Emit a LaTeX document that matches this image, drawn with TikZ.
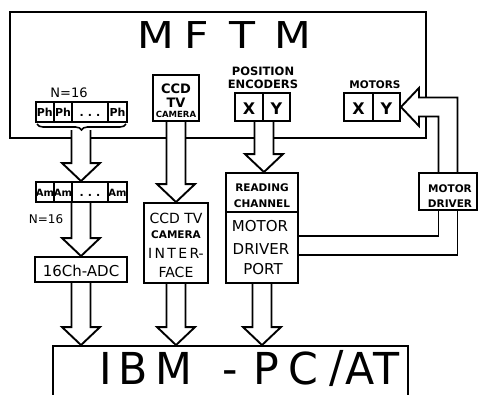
\documentclass[tikz,border=0pt]{standalone}
\usepackage{fontspec}
\setmainfont{DejaVu Sans}
\usetikzlibrary{calc,decorations.pathreplacing}
\newcommand\busarrow[2]{%
  \path[bus] ($(#1)+(-9.5,0)$) -- ($(#2)+(-9.5,-18)$) -- ($(#2)+(-19,-18)$) -- (#2)
    -- ($(#2)+(19,-18)$) -- ($(#2)+(9.5,-18)$) -- ($(#1)+(9.5,0)$);}
\begin{document}
\begin{tikzpicture}[x=1pt,y=-1pt,line width=1.9pt,
  box/.style={draw,rectangle,inner sep=0pt,line join=miter},
  bus/.style={draw,fill=white,line join=miter},
  txt/.style={inner sep=0pt,anchor=base},
  sm/.style={txt,font=\bfseries\fontsize{10}{10}\selectfont},
  cell/.style={txt,font=\bfseries\fontsize{11}{11}\selectfont},
  md/.style={txt,font=\fontsize{15}{15}\selectfont},
  xy/.style={txt,font=\bfseries\fontsize{16}{16}\selectfont},
  big/.style={txt,font=\fontsize{37}{37}\selectfont,xscale=1.15},
  huge/.style={txt,font=\fontsize{44}{44}\selectfont,xscale=0.97},
]
\useasboundingbox (0,0) rectangle (478,394);
\clip (0,0) rectangle (478,394);

% MFTM outer box
\node[box,minimum width=416,minimum height=126] (mftm) at (218,75) {};
\node[big] (m1) at (156,48) {M};
\node[big] (m2) at (197,48) {F};
\node[big] (m3) at (242,48) {T};
\node[big] (m4) at (293,48) {M};

% IBM box
\node[box,minimum width=355,minimum height=80] (ibm) at (230.5,386) {};

% column positions (boxes drawn later)
\coordinate (brc) at (81,130);
\node[inner sep=0pt,minimum width=92,minimum height=20] (amrow) at (81,192) {};
\node[inner sep=0pt,minimum width=92,minimum height=25] (adc) at (81,269.5) {};
\node[inner sep=0pt,minimum width=46,minimum height=46] (cam) at (176,98) {};
\node[inner sep=0pt,minimum width=64,minimum height=80] (ifc) at (176,243) {};
\node[inner sep=0pt,minimum width=28,minimum height=28] (ex) at (249,107) {};
\node[inner sep=0pt,minimum width=72,minimum height=39] (rd) at (262,192.5) {};
\node[inner sep=0pt,minimum width=72,minimum height=71] (port) at (262,247.5) {};
\node[inner sep=0pt,minimum width=27,minimum height=28] (my) at (386.5,107) {};
\node[inner sep=0pt,minimum width=58,minimum height=37] (mdrv) at (448,191.5) {};

% hollow bus arrows
\busarrow{brc}{brc |- amrow.north}
\busarrow{adc |- amrow.south}{adc.north}
\busarrow{adc.south}{adc |- ibm.north}
\busarrow{cam.south}{ifc.north}
\busarrow{ifc.south}{ifc |- ibm.north}
\busarrow{ex.south east}{ex.south east |- rd.north}
\busarrow{port.south}{port |- ibm.north}
% L-shaped arrow motor driver -> motors
\path[bus] ($(mdrv.north)+(-9.5,0)$) -- ($(mdrv.north |- my.east)+(-9.5,9.5)$)
  -- ($(my.east)+(18,9.5)$) -- ($(my.east)+(18,19)$) -- (my.east)
  -- ($(my.east)+(18,-19)$) -- ($(my.east)+(18,-9.5)$)
  -- ($(mdrv.north |- my.east)+(9.5,-9.5)$) -- ($(mdrv.north)+(9.5,0)$);
% double line motor driver port -> motor driver
\draw[line join=miter] ($(port.north east)+(0,25)$) -| ($(mdrv.south)+(-9.5,0)$);
\draw[line join=miter] ($(port.north east)+(0,44)$) -| ($(mdrv.south)+(9.5,0)$);

% N=16 and Ph row
\node[txt,font=\fontsize{13}{13}\selectfont] (n1) at (69,97) {N=16};
\node[box,minimum width=18.3,minimum height=20] (ph1) at (44.85,112) {};
\node[box,minimum width=18,minimum height=20] (ph2) at (63,112) {};
\node[box,minimum width=36,minimum height=20] (ph3) at (90,112) {};
\node[box,minimum width=19,minimum height=20] (ph4) at (117.5,112) {};
\node[cell] (pht1) at (44.85,116.5) {Ph};
\node[cell] (pht2) at (63,116.5) {Ph};
\node[cell] (pht3) at (90,116.5) {.\hspace{4pt}.\hspace{4pt}.};
\node[cell] (pht4) at (117.5,116.5) {Ph};
\draw[decorate,decoration={brace,amplitude=6pt,mirror},line width=1.6pt] (37,124) -- (126,124);

% Am row
\node[box,minimum width=18.3,minimum height=20] (am1) at (44.85,192) {};
\node[box,minimum width=18,minimum height=20] (am2) at (63,192) {};
\node[box,minimum width=36,minimum height=20] (am3) at (90,192) {};
\node[box,minimum width=19,minimum height=20] (am4) at (117.5,192) {};
\node[sm] (amt1) at (44.85,196.5) {Am};
\node[sm] (amt2) at (63,196.5) {Am};
\node[cell] (amt3) at (90,196.5) {.\hspace{4pt}.\hspace{4pt}.};
\node[sm] (amt4) at (117.5,196.5) {Am};
\node[txt,font=\fontsize{12}{12}\selectfont] (n2) at (46,223) {N=16};

% ADC
\node[box,minimum width=92,minimum height=25] (adcb) at (adc) {};
\node[md] (adct) at (81,276.5) {16Ch-ADC};

% camera
\node[box,minimum width=46,minimum height=46] (camb) at (cam) {};
\node[txt,font=\bfseries\fontsize{13}{13}\selectfont] (camt1) at (176,93) {CCD};
\node[txt,font=\bfseries\fontsize{13}{13}\selectfont] (camt2) at (176,107) {TV};
\node[txt,font=\bfseries\fontsize{8.5}{8.5}\selectfont] (camt3) at (176,117.5) {CAMERA};

% interface
\node[box,minimum width=64,minimum height=80] (ifcb) at (ifc) {};
\node[txt,font=\fontsize{14}{14}\selectfont] (ifct1) at (176,223.5) {CCD TV};
\node[txt,font=\bfseries\fontsize{10.5}{10.5}\selectfont] (ifct2) at (176,238.5) {CAMERA};
\node[txt,font=\fontsize{14}{14}\selectfont] (ifct3) at (176,258) {I\,N\,T\,E\,R-};
\node[txt,font=\fontsize{14}{14}\selectfont] (ifct4) at (176,277) {FACE};

% position encoders
\node[txt,font=\bfseries\fontsize{11.5}{11.5}\selectfont] (pe1) at (263,75) {POSITION};
\node[txt,font=\bfseries\fontsize{11.5}{11.5}\selectfont] (pe2) at (263,88) {ENCODERS};
\node[box,minimum width=28,minimum height=28] (exb) at (ex) {};
\node[box,minimum width=27,minimum height=28] (ey) at (276.5,107) {};
\node[xy] (ext) at (249,114.5) {X};
\node[xy] (eyt) at (276.5,114.5) {Y};

% reading channel / motor driver port
\node[box,minimum width=72,minimum height=39] (rdb) at (rd) {};
\node[txt,font=\bfseries\fontsize{10.5}{10.5}\selectfont] (rdt1) at (262,191.5) {READING};
\node[txt,font=\bfseries\fontsize{10.5}{10.5}\selectfont] (rdt2) at (262,207) {CHANNEL};
\node[box,minimum width=72,minimum height=71] (portb) at (port) {};
\node[md] (pt1) at (260,231) {MOTOR};
\node[md] (pt2) at (261,254.5) {DRIVER};
\node[md] (pt3) at (263,274.5) {PORT};

% motors
\node[txt,font=\bfseries\fontsize{10.5}{10.5}\selectfont] (mot) at (375,88) {MOTORS};
\node[box,minimum width=29,minimum height=28] (mx) at (358.5,107) {};
\node[box,minimum width=27,minimum height=28] (myb) at (my) {};
\node[xy] (mxt) at (358.5,114.5) {X};
\node[xy] (myt) at (386.5,114.5) {Y};

% motor driver
\node[box,minimum width=58,minimum height=37] (mdrvb) at (mdrv) {};
\node[txt,font=\bfseries\fontsize{10.5}{10.5}\selectfont] (md1) at (450,192) {MOTOR};
\node[txt,font=\bfseries\fontsize{10.5}{10.5}\selectfont] (md2) at (450,207) {DRIVER};

% IBM text
\node[huge] (i1) at (106,384) {I};
\node[huge] (i2) at (133.5,384) {B};
\node[huge] (i3) at (174,384) {M};
\node[huge] (i4) at (230,384) {-};
\node[huge] (i5) at (266.5,384) {P};
\node[huge] (i6) at (303.5,384) {C};
\node[huge] (i7) at (337,382) {/};
\node[huge] (i8) at (360.5,384) {A};
\node[huge] (i9) at (386.5,384) {T};
\end{tikzpicture}
\end{document}
